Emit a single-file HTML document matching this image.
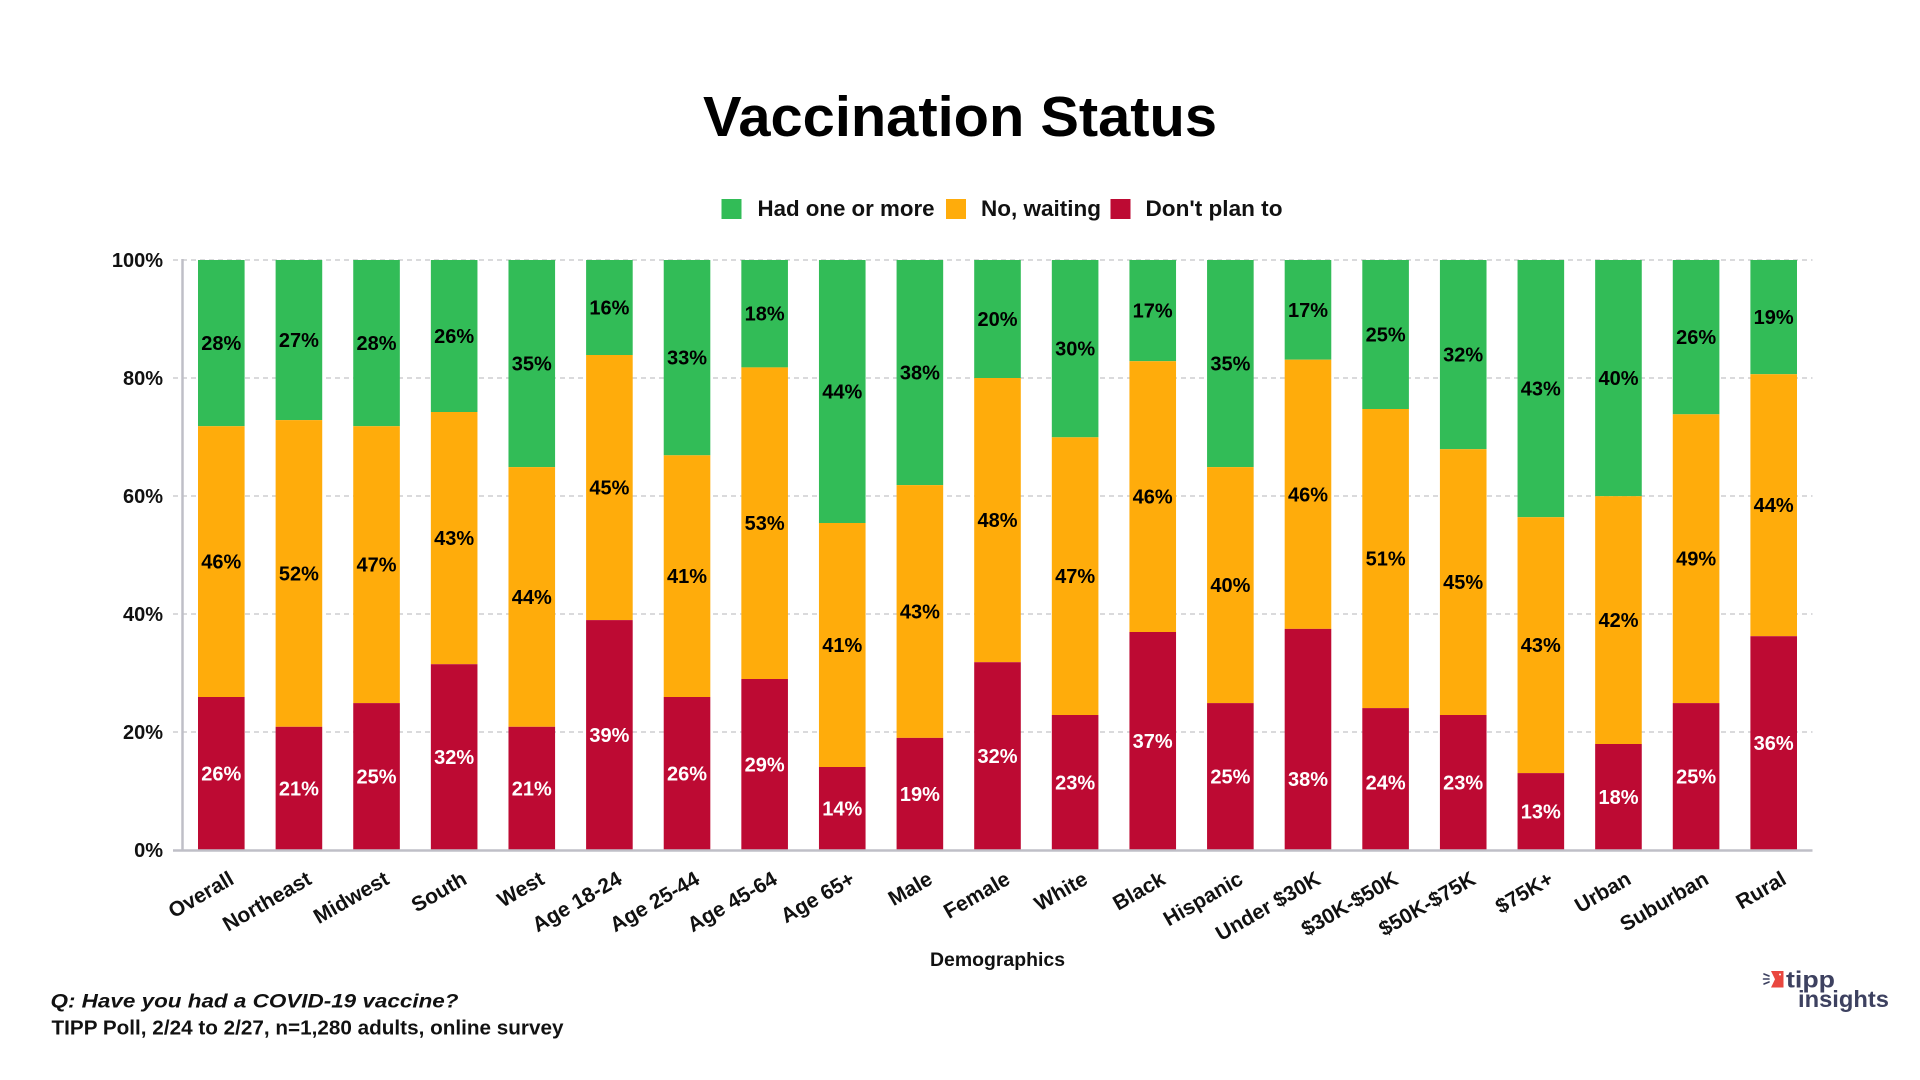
<!DOCTYPE html>
<html>
<head>
<meta charset="utf-8">
<style>
html,body{margin:0;padding:0;background:#fff;}
svg{display:block;}
text{font-family:"Liberation Sans",Arial,sans-serif;}
</style>
</head>
<body>
<svg width="1920" height="1080" viewBox="0 0 1920 1080" xmlns="http://www.w3.org/2000/svg">
<rect width="1920" height="1080" fill="#fff"/>

<!-- Title -->
<text x="960" y="136" text-anchor="middle" font-size="57" font-weight="bold" fill="#000" textLength="514" lengthAdjust="spacingAndGlyphs">Vaccination Status</text>

<!-- Legend -->
<rect x="721.5" y="199" width="20" height="20" fill="#32BC57"/>
<text x="757.5" y="216" font-size="22" font-weight="bold" fill="#111" textLength="177" lengthAdjust="spacingAndGlyphs">Had one or more</text>
<rect x="946" y="199" width="20" height="20" fill="#FFAC0B"/>
<text x="981" y="216" font-size="22" font-weight="bold" fill="#111" textLength="120" lengthAdjust="spacingAndGlyphs">No, waiting</text>
<rect x="1110.5" y="199" width="20" height="20" fill="#BD0A33"/>
<text x="1145.5" y="216" font-size="22" font-weight="bold" fill="#111" textLength="137" lengthAdjust="spacingAndGlyphs">Don't plan to</text>

<!-- Gridlines -->
<g stroke="#c4c4c8" stroke-width="1.3" stroke-dasharray="5,4">
<line x1="173" y1="260" x2="1812.5" y2="260"/>
<line x1="173" y1="378" x2="1812.5" y2="378"/>
<line x1="173" y1="496" x2="1812.5" y2="496"/>
<line x1="173" y1="614" x2="1812.5" y2="614"/>
<line x1="173" y1="732" x2="1812.5" y2="732"/>
</g>

<!-- Y labels -->
<g font-size="20" font-weight="bold" fill="#111" text-anchor="end">
<text x="163" y="267">100%</text>
<text x="163" y="385">80%</text>
<text x="163" y="503">60%</text>
<text x="163" y="621">40%</text>
<text x="163" y="739">20%</text>
<text x="163" y="857">0%</text>
</g>

<!-- Bars -->
<g>
<!-- 0 Overall -->
<rect x="198.0" y="260" width="46.6" height="166.2" fill="#32BC57"/>
<rect x="198.0" y="426.2" width="46.6" height="270.8" fill="#FFAC0B"/>
<rect x="198.0" y="697.0" width="46.6" height="153" fill="#BD0A33"/>
<!-- 1 Northeast -->
<rect x="275.62" y="260" width="46.6" height="160.1" fill="#32BC57"/>
<rect x="275.62" y="420.1" width="46.6" height="306.7" fill="#FFAC0B"/>
<rect x="275.62" y="726.8" width="46.6" height="123.2" fill="#BD0A33"/>
<!-- 2 Midwest -->
<rect x="353.24" y="260" width="46.6" height="166.2" fill="#32BC57"/>
<rect x="353.24" y="426.2" width="46.6" height="276.9" fill="#FFAC0B"/>
<rect x="353.24" y="703.1" width="46.6" height="146.9" fill="#BD0A33"/>
<!-- 3 South -->
<rect x="430.86" y="260" width="46.6" height="152" fill="#32BC57"/>
<rect x="430.86" y="412.0" width="46.6" height="252.2" fill="#FFAC0B"/>
<rect x="430.86" y="664.2" width="46.6" height="185.8" fill="#BD0A33"/>
<!-- 4 West -->
<rect x="508.48" y="260" width="46.6" height="207.1" fill="#32BC57"/>
<rect x="508.48" y="467.1" width="46.6" height="259.7" fill="#FFAC0B"/>
<rect x="508.48" y="726.8" width="46.6" height="123.2" fill="#BD0A33"/>
<!-- 5 Age 18-24 -->
<rect x="586.1" y="260" width="46.6" height="95" fill="#32BC57"/>
<rect x="586.1" y="355.0" width="46.6" height="265.1" fill="#FFAC0B"/>
<rect x="586.1" y="620.1" width="46.6" height="229.9" fill="#BD0A33"/>
<!-- 6 Age 25-44 -->
<rect x="663.72" y="260" width="46.6" height="195.3" fill="#32BC57"/>
<rect x="663.72" y="455.3" width="46.6" height="241.7" fill="#FFAC0B"/>
<rect x="663.72" y="697.0" width="46.6" height="153" fill="#BD0A33"/>
<!-- 7 Age 45-64 -->
<rect x="741.34" y="260" width="46.6" height="107.4" fill="#32BC57"/>
<rect x="741.34" y="367.4" width="46.6" height="311.6" fill="#FFAC0B"/>
<rect x="741.34" y="679.0" width="46.6" height="171" fill="#BD0A33"/>
<!-- 8 Age 65+ -->
<rect x="818.96" y="260" width="46.6" height="263" fill="#32BC57"/>
<rect x="818.96" y="523.0" width="46.6" height="244" fill="#FFAC0B"/>
<rect x="818.96" y="767.0" width="46.6" height="83" fill="#BD0A33"/>
<!-- 9 Male -->
<rect x="896.58" y="260" width="46.6" height="225.1" fill="#32BC57"/>
<rect x="896.58" y="485.1" width="46.6" height="252.8" fill="#FFAC0B"/>
<rect x="896.58" y="737.9" width="46.6" height="112.1" fill="#BD0A33"/>
<!-- 10 Female -->
<rect x="974.2" y="260" width="46.6" height="118" fill="#32BC57"/>
<rect x="974.2" y="378.0" width="46.6" height="284.2" fill="#FFAC0B"/>
<rect x="974.2" y="662.2" width="46.6" height="187.8" fill="#BD0A33"/>
<!-- 11 White -->
<rect x="1051.82" y="260" width="46.6" height="177.3" fill="#32BC57"/>
<rect x="1051.82" y="437.3" width="46.6" height="277.7" fill="#FFAC0B"/>
<rect x="1051.82" y="715.0" width="46.6" height="135" fill="#BD0A33"/>
<!-- 12 Black -->
<rect x="1129.44" y="260" width="46.6" height="101.2" fill="#32BC57"/>
<rect x="1129.44" y="361.2" width="46.6" height="270.8" fill="#FFAC0B"/>
<rect x="1129.44" y="632.0" width="46.6" height="218" fill="#BD0A33"/>
<!-- 13 Hispanic -->
<rect x="1207.06" y="260" width="46.6" height="207.1" fill="#32BC57"/>
<rect x="1207.06" y="467.1" width="46.6" height="236" fill="#FFAC0B"/>
<rect x="1207.06" y="703.1" width="46.6" height="146.9" fill="#BD0A33"/>
<!-- 14 Under $30K -->
<rect x="1284.68" y="260" width="46.6" height="99.7" fill="#32BC57"/>
<rect x="1284.68" y="359.7" width="46.6" height="269.2" fill="#FFAC0B"/>
<rect x="1284.68" y="628.9" width="46.6" height="221.1" fill="#BD0A33"/>
<!-- 15 $30K-$50K -->
<rect x="1362.3" y="260" width="46.6" height="149" fill="#32BC57"/>
<rect x="1362.3" y="409.0" width="46.6" height="299.1" fill="#FFAC0B"/>
<rect x="1362.3" y="708.1" width="46.6" height="141.9" fill="#BD0A33"/>
<!-- 16 $50K-$75K -->
<rect x="1439.92" y="260" width="46.6" height="189.2" fill="#32BC57"/>
<rect x="1439.92" y="449.2" width="46.6" height="265.8" fill="#FFAC0B"/>
<rect x="1439.92" y="715.0" width="46.6" height="135" fill="#BD0A33"/>
<!-- 17 $75K+ -->
<rect x="1517.54" y="260" width="46.6" height="257.2" fill="#32BC57"/>
<rect x="1517.54" y="517.2" width="46.6" height="255.9" fill="#FFAC0B"/>
<rect x="1517.54" y="773.1" width="46.6" height="76.9" fill="#BD0A33"/>
<!-- 18 Urban -->
<rect x="1595.16" y="260" width="46.6" height="236.2" fill="#32BC57"/>
<rect x="1595.16" y="496.2" width="46.6" height="247.8" fill="#FFAC0B"/>
<rect x="1595.16" y="744.0" width="46.6" height="106" fill="#BD0A33"/>
<!-- 19 Suburban -->
<rect x="1672.78" y="260" width="46.6" height="154.3" fill="#32BC57"/>
<rect x="1672.78" y="414.3" width="46.6" height="288.8" fill="#FFAC0B"/>
<rect x="1672.78" y="703.1" width="46.6" height="146.9" fill="#BD0A33"/>
<!-- 20 Rural -->
<rect x="1750.4" y="260" width="46.6" height="114.2" fill="#32BC57"/>
<rect x="1750.4" y="374.2" width="46.6" height="262" fill="#FFAC0B"/>
<rect x="1750.4" y="636.2" width="46.6" height="213.8" fill="#BD0A33"/>
</g>

<!-- Data labels: dark -->
<g font-size="20" font-weight="bold" fill="#000" text-anchor="middle">
<text x="221.3" y="350.1">28%</text><text x="221.3" y="568.6">46%</text>
<text x="298.9" y="347.1">27%</text><text x="298.9" y="580.5">52%</text>
<text x="376.5" y="350.1">28%</text><text x="376.5" y="571.7">47%</text>
<text x="454.2" y="343">26%</text><text x="454.2" y="545.1">43%</text>
<text x="531.8" y="370.6">35%</text><text x="531.8" y="604">44%</text>
<text x="609.4" y="314.5">16%</text><text x="609.4" y="494.6">45%</text>
<text x="687.0" y="364.7">33%</text><text x="687.0" y="583.2">41%</text>
<text x="764.6" y="320.7">18%</text><text x="764.6" y="530.2">53%</text>
<text x="842.3" y="398.5">44%</text><text x="842.3" y="652">41%</text>
<text x="919.9" y="379.6">38%</text><text x="919.9" y="618.5">43%</text>
<text x="997.5" y="326">20%</text><text x="997.5" y="527.1">48%</text>
<text x="1075.1" y="355.7">30%</text><text x="1075.1" y="583.2">47%</text>
<text x="1152.7" y="317.6">17%</text><text x="1152.7" y="503.6">46%</text>
<text x="1230.4" y="370.6">35%</text><text x="1230.4" y="592.1">40%</text>
<text x="1308.0" y="316.9">17%</text><text x="1308.0" y="501.3">46%</text>
<text x="1385.6" y="341.5">25%</text><text x="1385.6" y="565.6">51%</text>
<text x="1463.2" y="361.6">32%</text><text x="1463.2" y="589.1">45%</text>
<text x="1540.8" y="395.6">43%</text><text x="1540.8" y="652.2">43%</text>
<text x="1618.5" y="385.1">40%</text><text x="1618.5" y="627.1">42%</text>
<text x="1696.1" y="344.2">26%</text><text x="1696.1" y="565.7">49%</text>
<text x="1773.7" y="324.1">19%</text><text x="1773.7" y="512.2">44%</text>
</g>
<!-- Data labels: white -->
<g font-size="20" font-weight="bold" fill="#fff" text-anchor="middle">
<text x="221.3" y="780.5">26%</text>
<text x="298.9" y="795.4">21%</text>
<text x="376.5" y="783.6">25%</text>
<text x="454.2" y="764.1">32%</text>
<text x="531.8" y="795.4">21%</text>
<text x="609.4" y="742.1">39%</text>
<text x="687.0" y="780.5">26%</text>
<text x="764.6" y="771.5">29%</text>
<text x="842.3" y="815.5">14%</text>
<text x="919.9" y="801">19%</text>
<text x="997.5" y="763.1">32%</text>
<text x="1075.1" y="789.5">23%</text>
<text x="1152.7" y="748">37%</text>
<text x="1230.4" y="783.6">25%</text>
<text x="1308.0" y="786.1">38%</text>
<text x="1385.6" y="789.5">24%</text>
<text x="1463.2" y="789.5">23%</text>
<text x="1540.8" y="818.6">13%</text>
<text x="1618.5" y="804">18%</text>
<text x="1696.1" y="783.6">25%</text>
<text x="1773.7" y="750.1">36%</text>
</g>

<!-- Axes -->
<line x1="182.5" y1="259" x2="182.5" y2="851" stroke="#bfbfc7" stroke-width="2.5"/>
<line x1="173" y1="850.5" x2="1812.5" y2="850.5" stroke="#bfbfc7" stroke-width="2.5"/>

<!-- Category labels -->
<g font-size="21" font-weight="bold" fill="#111" text-anchor="end">
<text transform="translate(235.3,883) rotate(-30)">Overall</text>
<text transform="translate(312.9,883) rotate(-30)">Northeast</text>
<text transform="translate(390.5,883) rotate(-30)">Midwest</text>
<text transform="translate(468.2,883) rotate(-30)">South</text>
<text transform="translate(545.8,883) rotate(-30)">West</text>
<text transform="translate(623.4,883) rotate(-30)">Age 18-24</text>
<text transform="translate(701.0,883) rotate(-30)">Age 25-44</text>
<text transform="translate(778.6,883) rotate(-30)">Age 45-64</text>
<text transform="translate(856.3,883) rotate(-30)">Age 65+</text>
<text transform="translate(933.9,883) rotate(-30)">Male</text>
<text transform="translate(1011.5,883) rotate(-30)">Female</text>
<text transform="translate(1089.1,883) rotate(-30)">White</text>
<text transform="translate(1166.7,883) rotate(-30)">Black</text>
<text transform="translate(1244.4,883) rotate(-30)">Hispanic</text>
<text transform="translate(1322.0,883) rotate(-30)">Under $30K</text>
<text transform="translate(1399.6,883) rotate(-30)">$30K-$50K</text>
<text transform="translate(1477.2,883) rotate(-30)">$50K-$75K</text>
<text transform="translate(1554.8,883) rotate(-30)">$75K+</text>
<text transform="translate(1632.5,883) rotate(-30)">Urban</text>
<text transform="translate(1710.1,883) rotate(-30)">Suburban</text>
<text transform="translate(1787.7,883) rotate(-30)">Rural</text>
</g>

<!-- X axis title -->
<text x="997.5" y="966" text-anchor="middle" font-size="19.5" font-weight="bold" fill="#111" textLength="135" lengthAdjust="spacingAndGlyphs">Demographics</text>

<!-- Footer -->
<text x="50.5" y="1007.3" font-size="19.5" font-weight="bold" font-style="italic" fill="#111" textLength="408" lengthAdjust="spacingAndGlyphs">Q:  Have you had a COVID-19 vaccine?</text>
<text x="51.5" y="1034.3" font-size="20" font-weight="bold" fill="#111" textLength="512" lengthAdjust="spacingAndGlyphs">TIPP Poll, 2/24 to 2/27, n=1,280 adults, online survey</text>

<!-- Logo -->
<g>
<g stroke="#3d4160" stroke-width="1.6" stroke-linecap="round">
<line x1="1764" y1="974" x2="1769" y2="976"/>
<line x1="1763.5" y1="979" x2="1769" y2="979"/>
<line x1="1764" y1="984" x2="1769" y2="982"/>
</g>
<polygon points="1771,971 1783.5,971 1783.5,987.5 1771,987.5 1775,979.2" fill="#e9473f"/>
<circle cx="1780" cy="974.5" r="1" fill="#fff"/>
<text x="1786" y="987.5" font-size="23" font-weight="bold" fill="#3d4160" textLength="49" lengthAdjust="spacingAndGlyphs">tipp</text>
<text x="1798" y="1006.8" font-size="23" font-weight="bold" fill="#3d4160" textLength="91" lengthAdjust="spacingAndGlyphs">insights</text>
</g>
</svg>
</body>
</html>
